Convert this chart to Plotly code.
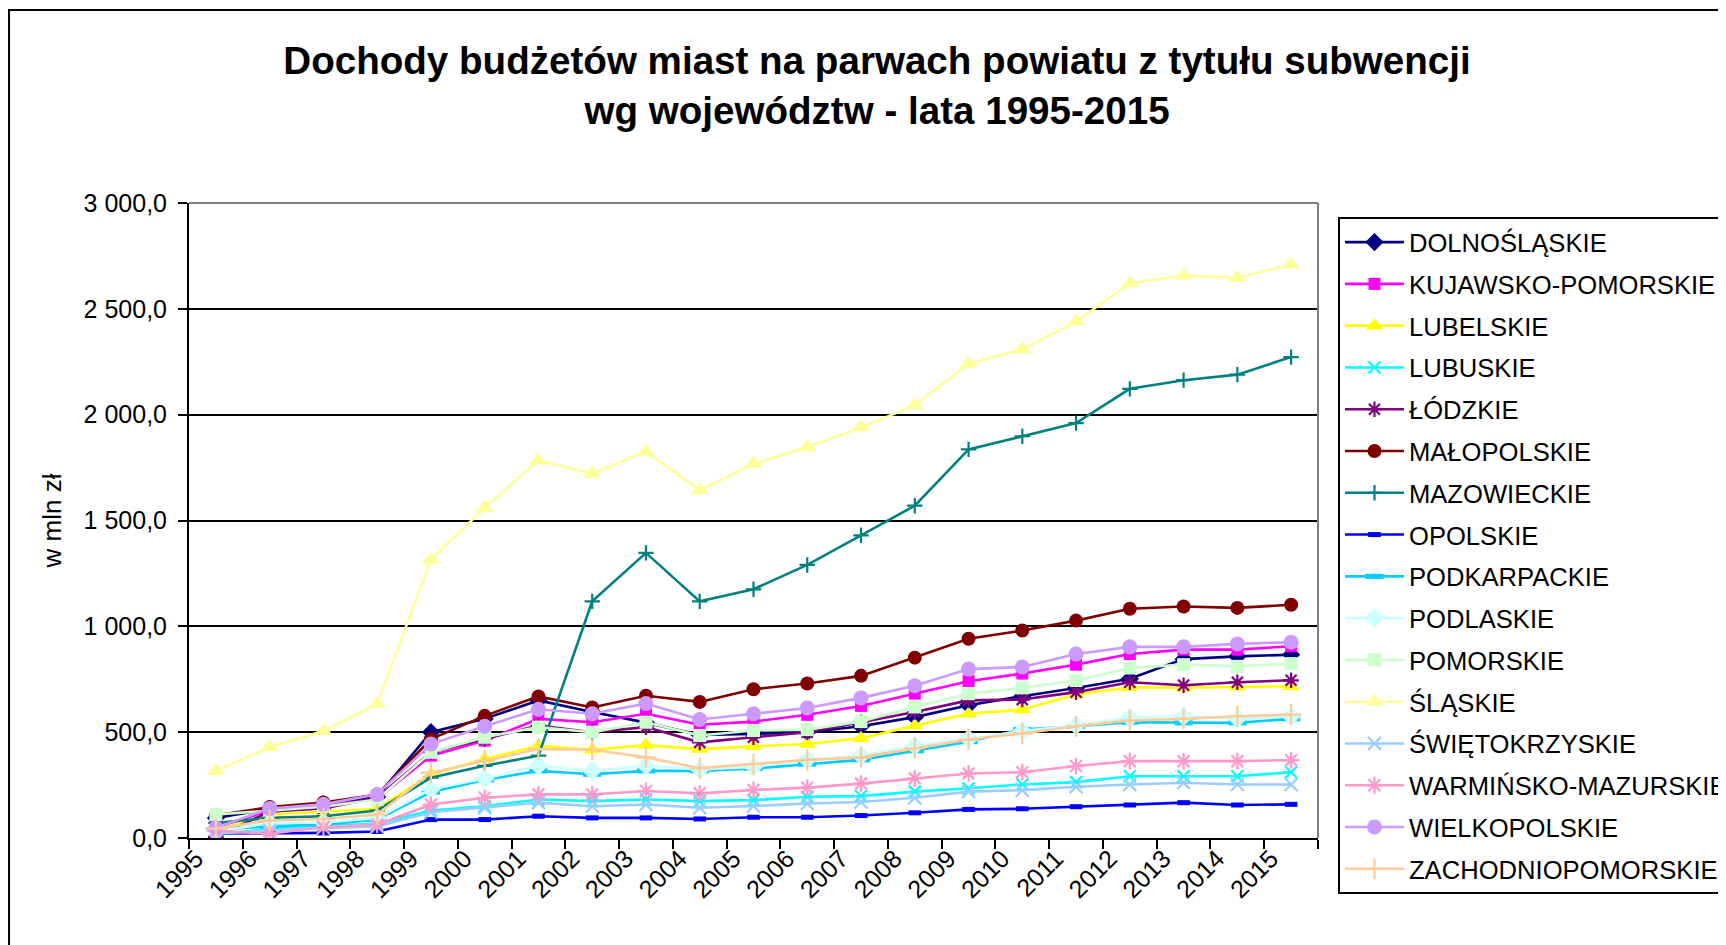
import plotly.graph_objects as go

years = [str(y) for y in range(1995, 2016)]

dolnoslaskie = [95, 138, 159, 195, 500, 563, 650, 595, 545, 487, 492, 500, 528, 571, 627, 670, 709, 752, 845, 858, 866]
kujawsko_pomorskie = [50, 130, 150, 185, 389, 460, 563, 547, 587, 535, 550, 582, 624, 682, 741, 777, 819, 869, 890, 890, 906]
lubelskie = [35, 111, 124, 138, 301, 373, 436, 417, 439, 420, 433, 444, 471, 531, 587, 607, 678, 712, 710, 715, 717]
lubuskie = [15, 43, 55, 68, 130, 150, 182, 174, 182, 174, 179, 195, 198, 219, 235, 253, 264, 292, 292, 292, 311]
lodzkie = [5, 125, 140, 190, 405, 468, 531, 500, 524, 452, 476, 500, 547, 595, 650, 654, 689, 736, 722, 736, 745]
malopolskie = [107, 146, 168, 205, 467, 577, 669, 617, 672, 643, 703, 730, 766, 852, 941, 980, 1027, 1083, 1094, 1087, 1102]
mazowieckie = [71, 95, 103, 130, 285, 341, 389, 1118, 1347, 1118, 1175, 1290, 1430, 1570, 1836, 1898, 1960, 2122, 2163, 2189, 2272]
opolskie = [21, 21, 24, 31, 87, 87, 103, 95, 95, 90, 98, 98, 106, 119, 135, 138, 148, 156, 167, 156, 159]
podkarpackie = [40, 55, 63, 87, 217, 274, 317, 301, 317, 317, 328, 349, 369, 412, 455, 513, 528, 547, 544, 544, 563]
podlaskie = [30, 71, 74, 95, 230, 281, 341, 317, 341, 324, 336, 370, 389, 436, 468, 505, 533, 568, 575, 563, 575]
pomorskie = [111, 131, 148, 182, 405, 476, 524, 500, 547, 484, 508, 512, 550, 619, 682, 709, 744, 803, 819, 811, 824]
slaskie = [316, 430, 505, 633, 1316, 1560, 1784, 1721, 1825, 1643, 1768, 1846, 1940, 2044, 2241, 2309, 2439, 2621, 2657, 2647, 2709]
swietokrzyskie = [20, 36, 48, 55, 122, 143, 167, 150, 158, 143, 151, 163, 170, 190, 219, 226, 242, 253, 261, 253, 253]
warminsko_mazurskie = [35, 20, 52, 63, 158, 190, 206, 206, 222, 211, 227, 238, 257, 282, 305, 311, 340, 363, 363, 363, 368]
wielkopolskie = [48, 139, 159, 206, 444, 528, 608, 587, 635, 560, 587, 614, 662, 719, 798, 808, 869, 903, 903, 917, 925]
zachodniopomorskie = [44, 84, 90, 111, 309, 365, 420, 417, 381, 330, 349, 369, 381, 424, 465, 494, 528, 555, 563, 575, 583]

y_tick_vals = [0, 500, 1000, 1500, 2000, 2500, 3000]
y_tick_text = ["0,0", "500,0", "1 000,0", "1 500,0", "2 000,0", "2 500,0", "3 000,0"]

series = [
    ("DOLNOŚLĄSKIE", dolnoslaskie, "#000080", "diamond", 14, False),
    ("KUJAWSKO-POMORSKIE", kujawsko_pomorskie, "#FF00FF", "square", 12, False),
    ("LUBELSKIE", lubelskie, "#FFFF00", "triangle-up", 15, False),
    ("LUBUSKIE", lubuskie, "#00FFFF", "x-thin-open", 12, True),
    ("ŁÓDZKIE", lodzkie, "#800080", "asterisk-open", 13, True),
    ("MAŁOPOLSKIE", malopolskie, "#800000", "circle", 14, False),
    ("MAZOWIECKIE", mazowieckie, "#008080", "cross-thin-open", 11, True),
    ("OPOLSKIE", opolskie, "#0000FF", "line-ew-open", 9, True),
    ("PODKARPACKIE", podkarpackie, "#00CCFF", "line-ew-open", 13, True),
    ("PODLASKIE", podlaskie, "#CCFFFF", "diamond", 15, False),
    ("POMORSKIE", pomorskie, "#CCFFCC", "square", 13, False),
    ("ŚLĄSKIE", slaskie, "#FFFF99", "triangle-up", 16, False),
    ("ŚWIĘTOKRZYSKIE", swietokrzyskie, "#99CCFF", "x-thin-open", 13, True),
    ("WARMIŃSKO-MAZURSKIE", warminsko_mazurskie, "#FF99CC", "asterisk-open", 14, True),
    ("WIELKOPOLSKIE", wielkopolskie, "#CC99FF", "circle", 15, False),
    ("ZACHODNIOPOMORSKIE", zachodniopomorskie, "#FFCC99", "cross-thin-open", 15, True),
]

FONT = "Liberation Sans, Arial, sans-serif"

fig = go.Figure()
for name, vals, color, symbol, size, is_open in series:
    if is_open:
        lw = 5 if symbol.startswith("line") else 2.2
        marker = dict(symbol=symbol, size=size, color=color, line=dict(color=color, width=lw))
    else:
        marker = dict(symbol=symbol, size=size, color=color, line=dict(width=0))
    fig.add_trace(go.Scatter(
        x=years, y=vals, name=name, mode="lines+markers",
        line=dict(color=color, width=2.6), marker=marker,
        legendgroup=name,
    ))

fig.update_layout(
    width=1726, height=945,
    margin=dict(l=181, r=416, t=195, b=115, autoexpand=False),
    paper_bgcolor="white", plot_bgcolor="white",
    font=dict(family=FONT, color="black"),
    title=dict(
        text="<b>Dochody budżetów miast na parwach powiatu z tytułu subwencji<br>wg województw - lata 1995-2015</b>",
        font=dict(size=38.6, family=FONT, color="black"),
        x=0.5035, xref="container", xanchor="center",
        y=0.930, yref="container", yanchor="top",
    ),
    xaxis=dict(
        type="category", tickson="boundaries", ticks="outside", ticklen=9,
        tickwidth=2, tickcolor="black", tickangle=-45,
        tickfont=dict(size=25, family=FONT, color="black"),
        ticklabelshift=-20, ticklabelstandoff=-6,
        showline=True, linecolor="black", linewidth=2, showgrid=False,
        range=[-0.5, 20.5],
    ),
    yaxis=dict(
        range=[0, 3000], tickvals=y_tick_vals, ticktext=y_tick_text,
        ticks="outside", ticklen=9, tickwidth=2, tickcolor="black",
        tickfont=dict(size=25, family=FONT, color="black"),
        ticklabelstandoff=6,
        showgrid=True, gridcolor="black", gridwidth=2,
        showline=True, linecolor="black", linewidth=2, zeroline=False,
        title=dict(text="w mln zł", font=dict(size=26, family=FONT, color="black"), standoff=14),
    ),
    legend=dict(
        x=1.0177, y=0.978, xanchor="left", yanchor="top",
        bordercolor="black", borderwidth=2, bgcolor="white",
        font=dict(size=25.6, family=FONT, color="black"),
        tracegroupgap=5.5, itemwidth=59, maxheight=760,
    ),
    shapes=[
        dict(type="line", xref="paper", yref="paper", x0=0, x1=1, y0=1, y1=1,
             line=dict(color="#808080", width=2)),
        dict(type="line", xref="paper", yref="paper", x0=1, x1=1, y0=0, y1=1,
             line=dict(color="#808080", width=2)),
        dict(type="rect", xref="paper", yref="paper", x0=-0.1594, x1=1.6, y0=-0.4, y1=1.3039,
             line=dict(color="black", width=2), fillcolor="rgba(0,0,0,0)"),
    ],
)

fig.write_html("out.html")
